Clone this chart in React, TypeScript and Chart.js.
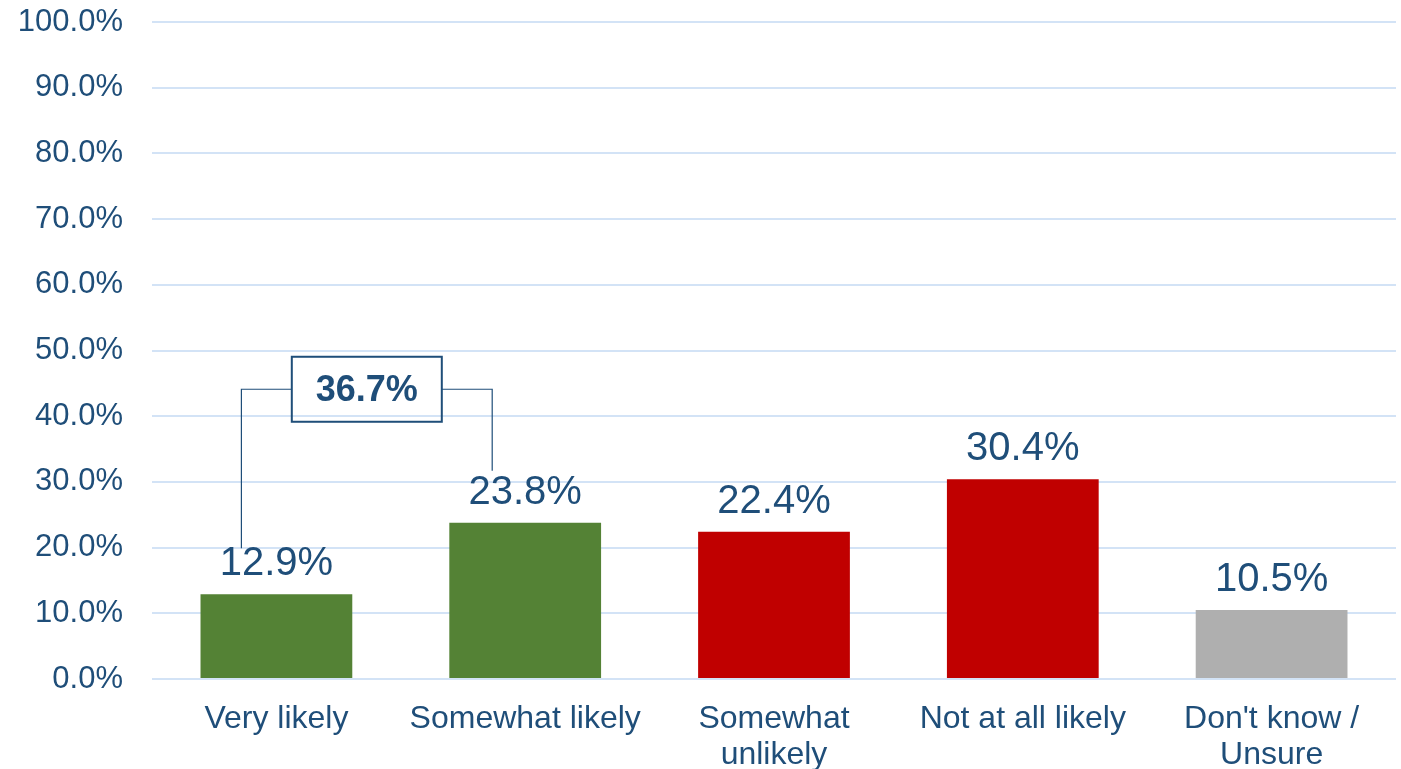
import React, { useEffect, useRef } from "react";
import { Chart, registerables } from "chart.js";

Chart.register(...registerables);

const categories: (string | string[])[] = [
  "Very likely",
  "Somewhat likely",
  ["Somewhat", "unlikely"],
  "Not at all likely",
  ["Don't know /", "Unsure"],
];
const values = [12.9, 23.8, 22.4, 30.4, 10.5];
const barColors = ["#548235", "#548235", "#C00000", "#C00000", "#AFAFAF"];
const yTicks = [0, 10, 20, 30, 40, 50, 60, 70, 80, 90, 100];
const bracketPair = [0, 1];

const TEXT = "#1F4E79";
const FONT = "'Liberation Sans', Arial, sans-serif";

const labelPlugin = {
  id: "labels",
  afterDatasetsDraw(chart: any) {
    const ctx = chart.ctx;
    const meta = chart.getDatasetMeta(0);
    const yScale = chart.scales.y;
    ctx.save();
    ctx.fillStyle = TEXT;
    ctx.font = `40px ${FONT}`;
    ctx.textAlign = "center";
    ctx.textBaseline = "alphabetic";
    meta.data.forEach((bar: any, i: number) => {
      ctx.fillText(values[i].toFixed(1) + "%", bar.x, bar.y - 19);
    });

    // bracket annotation
    const a = meta.data[bracketPair[0]];
    const b = meta.data[bracketPair[1]];
    const sum = values[bracketPair[0]] + values[bracketPair[1]];
    const xl = a.x - 35;
    const xr = b.x - 33;
    const yl = yScale.getPixelForValue(44.1);
    const cx = (xl + xr) / 2;
    const bw = 150;
    const bh = 65;
    ctx.strokeStyle = TEXT;
    ctx.lineWidth = 1.2;
    ctx.beginPath();
    ctx.moveTo(xl, a.y - 46);
    ctx.lineTo(xl, yl);
    ctx.lineTo(cx - bw / 2, yl);
    ctx.moveTo(cx + bw / 2, yl);
    ctx.lineTo(xr, yl);
    ctx.lineTo(xr, b.y - 52);
    ctx.stroke();
    ctx.lineWidth = 2;
    ctx.strokeRect(cx - bw / 2, yl - bh / 2, bw, bh);
    ctx.font = `bold 36px ${FONT}`;
    ctx.textBaseline = "middle";
    ctx.fillText(sum.toFixed(1) + "%", cx, yl + 2);
    ctx.restore();
  },
};

export default function App() {
  const ref = useRef<HTMLCanvasElement>(null);
  useEffect(() => {
    if (!ref.current) return;
    const chart = new Chart(ref.current, {
      type: "bar",
      data: {
        labels: categories,
        datasets: [
          {
            data: values,
            backgroundColor: barColors,
            categoryPercentage: 1,
            barPercentage: 0.61,
          },
        ],
      },
      options: {
        animation: false,
        responsive: true,
        maintainAspectRatio: false,
        layout: { padding: { top: 22, right: 5, bottom: 0, left: 0 } },
        plugins: { legend: { display: false }, tooltip: { enabled: false } },
        scales: {
          x: {
            afterFit(scale: any) {
              scale.height = 90;
            },
            grid: { display: false, drawTicks: false },
            border: { display: false },
            ticks: {
              color: TEXT,
              font: { family: FONT, size: 32, lineHeight: 1.1 },
              padding: 23,
              maxRotation: 0,
              autoSkip: false,
            },
          },
          y: {
            min: 0,
            max: 100,
            afterFit(scale: any) {
              scale.width = 152;
              scale.paddingTop = 0;
              scale.paddingBottom = 0;
            },
            afterBuildTicks(scale: any) {
              scale.ticks = yTicks.map((v) => ({ value: v }));
            },
            grid: { color: "#D3E3F6", lineWidth: 2, drawTicks: false },
            border: { display: false },
            ticks: {
              color: TEXT,
              font: { family: FONT, size: 31 },
              padding: 29,
              callback: (v: any) => Number(v).toFixed(1) + "%",
            },
          },
        },
      },
      plugins: [labelPlugin],
    });
    return () => chart.destroy();
  }, []);
  return (
    <div style={{ position: "absolute", left: 0, top: 0, width: 1401, height: 769 }}>
      <canvas ref={ref} />
    </div>
  );
}
